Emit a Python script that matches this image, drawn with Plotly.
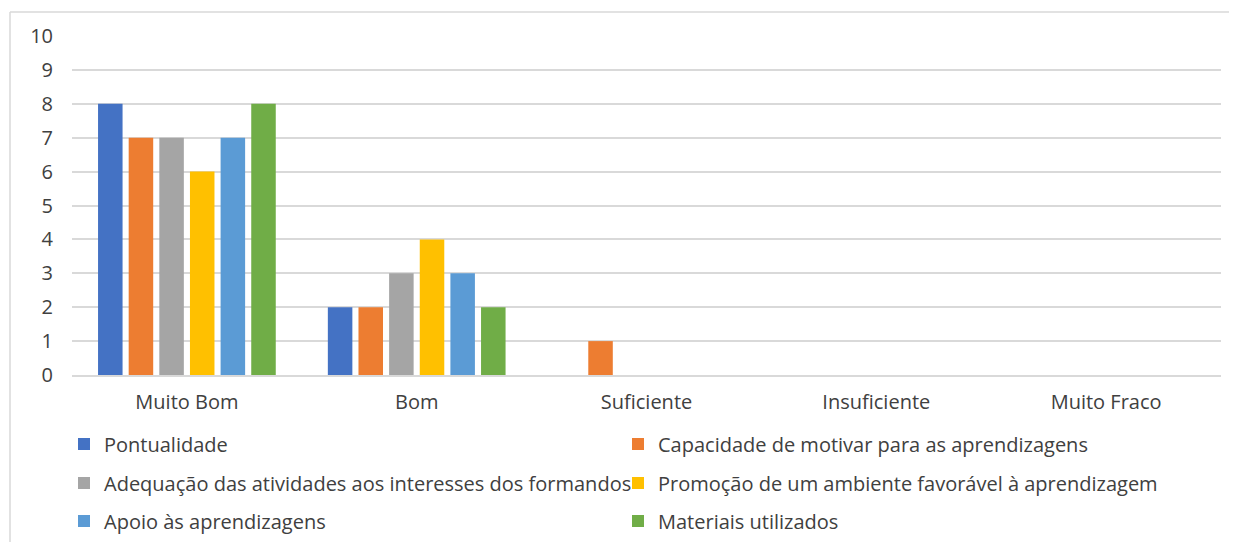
import plotly.graph_objects as go

categories = ["Muito Bom", "Bom", "Suficiente", "Insuficiente", "Muito Fraco"]
series_names = [
    "Pontualidade",
    "Capacidade de motivar para as aprendizagens",
    "Adequação das atividades aos interesses dos formandos",
    "Promoção de um ambiente favorável à aprendizagem",
    "Apoio às aprendizagens",
    "Materiais utilizados",
]
pontualidade = [8, 2, 0, 0, 0]
capacidade = [7, 2, 1, 0, 0]
adequacao = [7, 3, 0, 0, 0]
promocao = [6, 4, 0, 0, 0]
apoio = [7, 3, 0, 0, 0]
materiais = [8, 2, 0, 0, 0]
series_values = [pontualidade, capacidade, adequacao, promocao, apoio, materiais]
colors = ["#4472C4", "#ED7D31", "#A5A5A5", "#FFC000", "#5B9BD5", "#70AD47"]
y_ticks = list(range(0, 11))

# page is offset by the default 8px body margin
OFF = 8
W, H = 1237 - OFF, 542 - OFF
L, T = 72 - OFF, 36 - OFF
R = W - (1221 - OFF)
B = H - (375 - OFF)
PW, PH = W - L - R, H - T - B

def px_to_paper_x(px):
    return (px - OFF - L) / PW

def px_to_paper_y(py):
    return (H - B - (py - OFF)) / PH

FONT = "Open Sans"
FS = 20
TXT = "#404040"
legend_names = ["legend", "legend2", "legend3"]

fig = go.Figure()
for i, (name, vals, col) in enumerate(zip(series_names, series_values, colors)):
    fig.add_trace(go.Bar(
        x=categories, y=vals, name=name,
        marker=dict(color=col, line=dict(width=0)),
        legend=legend_names[i // 2],
    ))

row_y = [444, 483, 521]
legend_common = dict(
    orientation="h", entrywidth=509, entrywidthmode="pixels",
    xanchor="left", yanchor="middle", bgcolor="rgba(0,0,0,0)",
    font=dict(family=FONT, size=FS, color=TXT),
    itemclick=False, itemdoubleclick=False,
    traceorder="normal",
)
layout_legends = {}
for name, ry in zip(legend_names, row_y):
    layout_legends[name] = dict(legend_common, x=px_to_paper_x(64), y=px_to_paper_y(ry))

fig.update_layout(
    width=W, height=H,
    margin=dict(l=L, r=R, t=T, b=B, autoexpand=False),
    paper_bgcolor="white", plot_bgcolor="white",
    barmode="group", bargap=0.2, bargroupgap=0.2,
    showlegend=True,
    font=dict(family=FONT, size=FS, color=TXT),
    xaxis=dict(
        showgrid=False, showline=True, linecolor="#d9d9d9", linewidth=1.5,
        ticks="", ticklabelstandoff=8,
        tickfont=dict(family=FONT, size=FS, color=TXT),
    ),
    yaxis=dict(
        range=[0, 10], tickvals=y_ticks, showgrid=True, gridcolor="#d9d9d9", gridwidth=1.5,
        zeroline=False, showline=False, ticks="", ticklabelstandoff=18,
        tickfont=dict(family=FONT, size=FS, color=TXT),
    ),
    shapes=[
        dict(type="line", xref="paper", yref="paper",
             x0=px_to_paper_x(10), x1=px_to_paper_x(1245), y0=px_to_paper_y(12), y1=px_to_paper_y(12),
             line=dict(color="#d9d9d9", width=1.5)),
        dict(type="line", xref="paper", yref="paper",
             x0=px_to_paper_x(10), x1=px_to_paper_x(10), y0=px_to_paper_y(12), y1=px_to_paper_y(550),
             line=dict(color="#d9d9d9", width=1.5)),
    ],
    **layout_legends,
)

fig.write_html("out.html")
